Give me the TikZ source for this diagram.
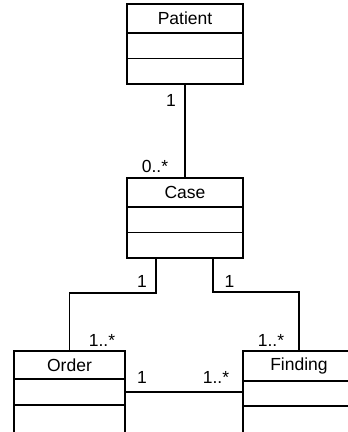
\documentclass[tikz,border=0pt]{standalone}
\usepackage{fontspec}
\setmainfont{Liberation Sans}
\usetikzlibrary{positioning}
\definecolor{umlline}{RGB}{0,0,0}
\tikzset{
  cls/.style     ={draw=umlline, line width=1.2pt, minimum width=#1, minimum height=29pt,
                   inner sep=0pt, outer sep=0pt, font=\fontsize{17.5}{20}\selectfont},
  cls/.default   =116pt,
  clspart/.style ={draw=umlline, line width=1.2pt, minimum width=#1, minimum height=25.5pt,
                   inner sep=0pt, outer sep=0pt},
  clspart/.default=116pt,
  assoc/.style   ={draw=umlline, line width=1.2pt},
  mult/.style    ={font=\fontsize{17.5}{20}\selectfont, inner sep=1pt},
}

\begin{document}
\begin{tikzpicture}[x=1pt,y=-1pt,node distance=0pt]
  \useasboundingbox (0,0) rectangle (348,432);
  \clip (0,0) rectangle (348,432);
  % classes
  \node[cls] (patient) at (185,18.5) {Patient};
  \node[clspart, below=of patient] (patient-a) {};
  \node[clspart, below=of patient-a] (patient-b) {};
  \node[cls] (case) at (185,192.5) {Case};
  \node[clspart, below=of case] (case-a) {};
  \node[clspart, below=of case-a] (case-b) {};
  \node[cls=111pt, minimum height=28pt] (order) at (69.5,365) {Order};
  \node[clspart=111pt, minimum height=26pt, below=of order] (order-a) {};
  \node[clspart=111pt, minimum height=40pt, below=of order-a] (order-b) {};
  \node[cls=112pt, minimum height=30pt] (finding) at (299,366) {Finding};
  \node[clspart=112pt, minimum height=25pt, below=of finding] (finding-a) {};
  \node[clspart=112pt, minimum height=40pt, below=of finding-a] (finding-b) {};
  % associations
  \draw[assoc] (patient-b.south) -- (case.north);
  \draw[assoc] ([xshift=-29pt]case-b.south) -- ++(0,35) -| (order.north);
  \draw[assoc] ([xshift=28pt]case-b.south) -- ++(0,34) -| (finding.north);
  \draw[assoc] (order-a.east) -- (order-a.east -| finding-a.west);
  % multiplicities
  \node[mult] (m-patient) at (171,100) {1};
  \node[mult] (m-case) at (155,166) {0..*};
  \node[mult] (m-case-l) at (142,281) {1};
  \node[mult] (m-case-r) at (229.5,281) {1};
  \node[mult] (m-order) at (102,340) {1..*};
  \node[mult] (m-finding) at (271,340) {1..*};
  \node[mult] (m-order-r) at (142,377) {1};
  \node[mult] (m-finding-l) at (216,377) {1..*};
\end{tikzpicture}
\end{document}
